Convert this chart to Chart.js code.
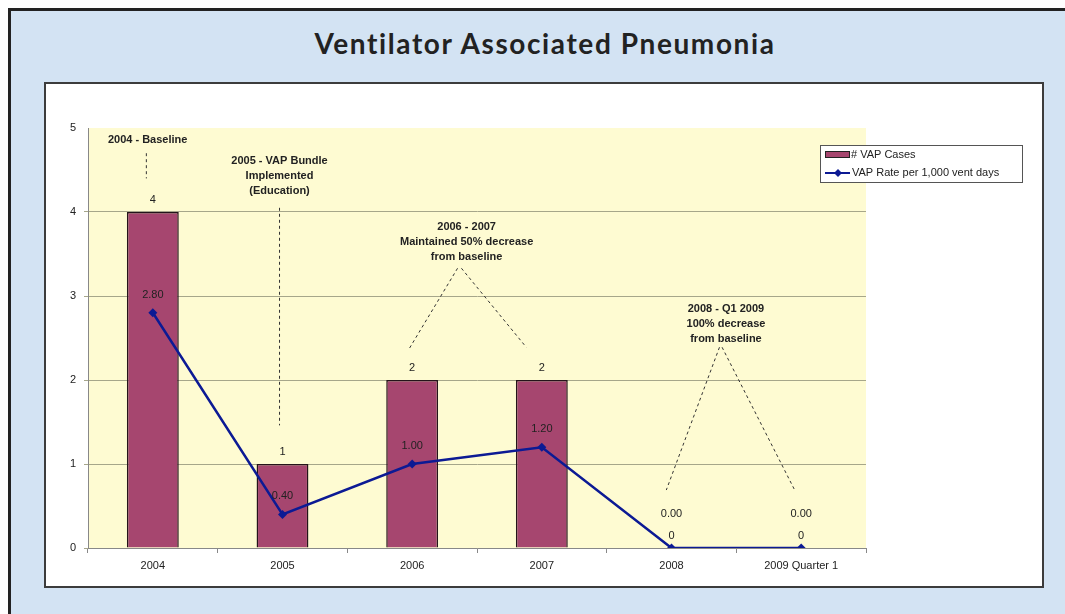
<!DOCTYPE html>
<html>
<head>
<meta charset="utf-8">
<script src="https://cdn.jsdelivr.net/npm/chart.js@4.4.0/dist/chart.umd.min.js"></script>
<style>
  html, body { margin: 0; padding: 0; background: #fff; width: 1065px; height: 614px; overflow: hidden; }
  #frame { position: absolute; left: 8px; top: 8px; width: 1200px; height: 800px; background: #d3e3f3; border-left: 3px solid #222; border-top: 3px solid #222; }
  #title { position: absolute; left: 0; top: 26px; width: 1090px; text-align: center; font-family: Lato, "Open Sans", sans-serif; font-weight: 700; font-size: 28px; line-height: 34px; letter-spacing: 1.6px; color: #222; }
  #box { position: absolute; left: 44px; top: 82px; width: 996px; height: 502px; background: #fff; border: 2px solid #3c3c3c; }
</style>
</head>
<body>
<div id="frame"></div>
<div id="title">Ventilator Associated Pneumonia</div>
<div id="box"><canvas id="vapChart"></canvas></div>
<script>
// chart data
const years = ['2004', '2005', '2006', '2007', '2008', '2009 Quarter 1'];
const vapCases = [4, 1, 2, 2, 0, 0];
const vapRate = [2.80, 0.40, 1.00, 1.20, 0.00, 0.00];
const yTicks = [0, 1, 2, 3, 4, 5];

// notes on the chart, anchored in data space (category index, value)
const notes = [
  { lines: ['2004 - Baseline'], x: -0.04, y: 4.86, dash: [[-0.05, 4.70, -0.05, 4.40]] },
  { lines: ['2005 - VAP Bundle', 'Implemented', '(Education)'], x: 0.977, y: 4.61, dash: [[0.977, 4.05, 0.977, 1.46]] },
  { lines: ['2006 - 2007', 'Maintained 50% decrease', 'from baseline'], x: 2.42, y: 3.82, dash: [[2.35, 3.33, 1.98, 2.38], [2.38, 3.33, 2.88, 2.39]] },
  { lines: ['2008 - Q1 2009', '100% decrease', 'from baseline'], x: 4.42, y: 2.845, dash: [[4.37, 2.39, 3.96, 0.69], [4.39, 2.39, 4.95, 0.69]] }
];

const FONT = '"Liberation Sans", Arial, sans-serif';
const BAR_COLOR = '#a6466f';
const LINE_COLOR = '#0c1a94';

Chart.defaults.font.family = FONT;
Chart.defaults.font.size = 11;
Chart.defaults.color = '#222';

// yellow plot background
const backdrop = {
  id: 'backdrop',
  beforeDraw(chart) {
    const { ctx, chartArea: a } = chart;
    ctx.save();
    ctx.fillStyle = '#fefbd2';
    ctx.fillRect(a.left, a.top, a.right - a.left, a.bottom - a.top);
    ctx.restore();
  }
};

// value labels, notes and legend box
const extras = {
  id: 'extras',
  afterDatasetsDraw(chart) {
    const { ctx, scales: { x, y } } = chart;
    ctx.save();
    ctx.fillStyle = '#222';
    ctx.textAlign = 'center';
    ctx.textBaseline = 'middle';
    ctx.font = '11px ' + FONT;

    const barMeta = chart.getDatasetMeta(1);
    const lineMeta = chart.getDatasetMeta(0);
    barMeta.data.forEach((bar, i) => {
      ctx.fillText(String(vapCases[i]), bar.x, bar.y - 12);
    });
    lineMeta.data.forEach((pt, i) => {
      const off = vapCases[i] === 0 ? 34 : 18;
      ctx.fillText(vapRate[i].toFixed(2), pt.x, pt.y - off);
    });

    // notes
    const x0 = x.getPixelForValue(0);
    const step = x.getPixelForValue(1) - x0;
    ctx.font = 'bold 11px ' + FONT;
    notes.forEach(n => {
      let cy = y.getPixelForValue(n.y);
      n.lines.forEach(t => { ctx.fillText(t, x0 + n.x * step, cy); cy += 15; });
      ctx.strokeStyle = '#333';
      ctx.lineWidth = 1;
      ctx.setLineDash([3, 3]);
      n.dash.forEach(d => {
        ctx.beginPath();
        ctx.moveTo(x0 + d[0] * step, y.getPixelForValue(d[1]));
        ctx.lineTo(x0 + d[2] * step, y.getPixelForValue(d[3]));
        ctx.stroke();
      });
      ctx.setLineDash([]);
    });
    ctx.restore();
  },
  afterDraw(chart) {
    const ctx = chart.ctx;
    const lx = 774, ly = 61, lw = 202, lh = 37;
    ctx.save();
    ctx.fillStyle = '#fff';
    ctx.fillRect(lx, ly, lw, lh);
    ctx.strokeStyle = '#555';
    ctx.lineWidth = 1;
    ctx.strokeRect(lx + 0.5, ly + 0.5, lw, lh);

    // bar swatch
    ctx.fillStyle = BAR_COLOR;
    ctx.fillRect(lx + 5, ly + 7, 24, 6);
    ctx.strokeStyle = '#222';
    ctx.strokeRect(lx + 5.5, ly + 6.5, 24, 6);

    // line swatch
    ctx.strokeStyle = LINE_COLOR;
    ctx.lineWidth = 2;
    ctx.beginPath();
    ctx.moveTo(lx + 5, ly + 28);
    ctx.lineTo(lx + 30, ly + 28);
    ctx.stroke();
    ctx.fillStyle = LINE_COLOR;
    ctx.beginPath();
    ctx.moveTo(lx + 18, ly + 24);
    ctx.lineTo(lx + 22, ly + 28);
    ctx.lineTo(lx + 18, ly + 32);
    ctx.lineTo(lx + 14, ly + 28);
    ctx.closePath();
    ctx.fill();

    ctx.fillStyle = '#222';
    ctx.font = '11px ' + FONT;
    ctx.textBaseline = 'middle';
    ctx.textAlign = 'left';
    ctx.fillText(chart.data.datasets[1].label, lx + 31, ly + 10);
    ctx.fillText(chart.data.datasets[0].label, lx + 32, ly + 28);
    ctx.restore();
  }
};

new Chart(document.getElementById('vapChart'), {
  type: 'bar',
  data: {
    labels: years,
    datasets: [{
      type: 'line',
      label: 'VAP Rate per 1,000 vent days',
      data: vapRate,
      borderColor: LINE_COLOR,
      backgroundColor: LINE_COLOR,
      borderWidth: 2.5,
      pointStyle: 'rectRot',
      pointRadius: 4.5,
      pointBorderWidth: 0,
      tension: 0,
      order: 0
    }, {
      type: 'bar',
      label: '# VAP Cases',
      data: vapCases,
      backgroundColor: BAR_COLOR,
      borderColor: '#24141a',
      borderWidth: 1.5,
      barPercentage: 0.4,
      categoryPercentage: 1,
      order: 1
    }]
  },
  options: {
    responsive: true,
    maintainAspectRatio: false,
    animation: false,
    devicePixelRatio: 1,
    layout: { padding: { left: 0, right: 176, top: 44, bottom: 0 } },
    plugins: {
      legend: { display: false },
      tooltip: { enabled: false },
      title: { display: false }
    },
    scales: {
      x: {
        grid: { display: true, drawOnChartArea: false, offset: true, tickLength: 5, color: '#888' },
        border: { color: '#888' },
        ticks: { padding: 6, color: '#222' },
        afterFit(s) { s.height = 38; }
      },
      y: {
        min: yTicks[0],
        max: yTicks[yTicks.length - 1],
        afterBuildTicks(s) { s.ticks = yTicks.map(v => ({ value: v })); },
        grid: {
          color: ctx => ctx.tick && ctx.tick.value === 5 ? 'rgba(0,0,0,0)' : '#a6a68a',
          tickLength: 4
        },
        border: { color: '#888' },
        ticks: { padding: 8, color: '#222' },
        afterFit(s) { s.width = 42; }
      }
    }
  },
  plugins: [backdrop, extras]
});
</script>
</body>
</html>
